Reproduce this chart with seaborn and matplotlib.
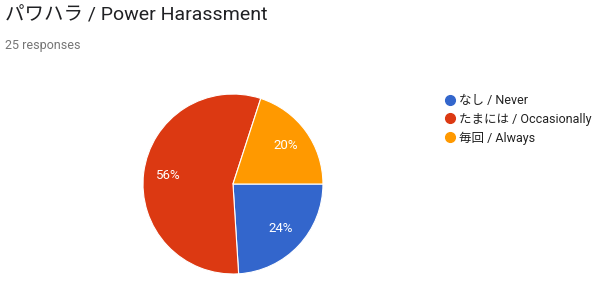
import matplotlib
matplotlib.use("Agg")
import matplotlib.pyplot as plt
import seaborn as sns
from matplotlib.lines import Line2D

categories = ["なし / Never", "たまには / Occasionally", "毎回 / Always"]
percentages = [24, 56, 20]
colors = ["#3366CC", "#DC3912", "#FF9900"]
title = "パワハラ / Power Harassment"
subtitle = "25 responses"

sns.set_theme(style="white")
plt.rcParams["font.family"] = ["Roboto", "Noto Sans CJK JP", "DejaVu Sans"]

fig = plt.figure(figsize=(6.02, 2.87), dpi=100)
fig.patch.set_facecolor("white")

ax = fig.add_axes([0.2375, 0.0453, 0.299, 0.627])
wedges, texts, autotexts = ax.pie(
    percentages, colors=colors, startangle=0, counterclock=False,
    autopct=lambda p: f"{p:.0f}%", pctdistance=0.72,
    wedgeprops=dict(edgecolor="white", linewidth=0.8),
    textprops=dict(color="white", fontsize=9.5),
)
ax.set_xlim(-1.0, 1.0)
ax.set_ylim(-1.0, 1.0)
ax.set_aspect("equal")

fig.text(5 / 602, 1 - 16 / 287, title, fontsize=14, color="#202124",
         va="center", ha="left")
fig.text(5 / 602, 1 - 45 / 287, subtitle, fontsize=9, color="#757575",
         va="center", ha="left")

handles = [Line2D([0], [0], marker="o", linestyle="none", markersize=7,
                  markerfacecolor=c, markeredgecolor=c) for c in colors]
fig.legend(handles, categories, loc="upper left",
           bbox_to_anchor=(440 / 602, 1 - 89 / 287), frameon=False,
           fontsize=9, handlelength=0.8, handletextpad=0.35,
           labelspacing=0.45, borderaxespad=0, labelcolor="#222222")

fig.savefig("out.png", dpi=100, facecolor="white")
